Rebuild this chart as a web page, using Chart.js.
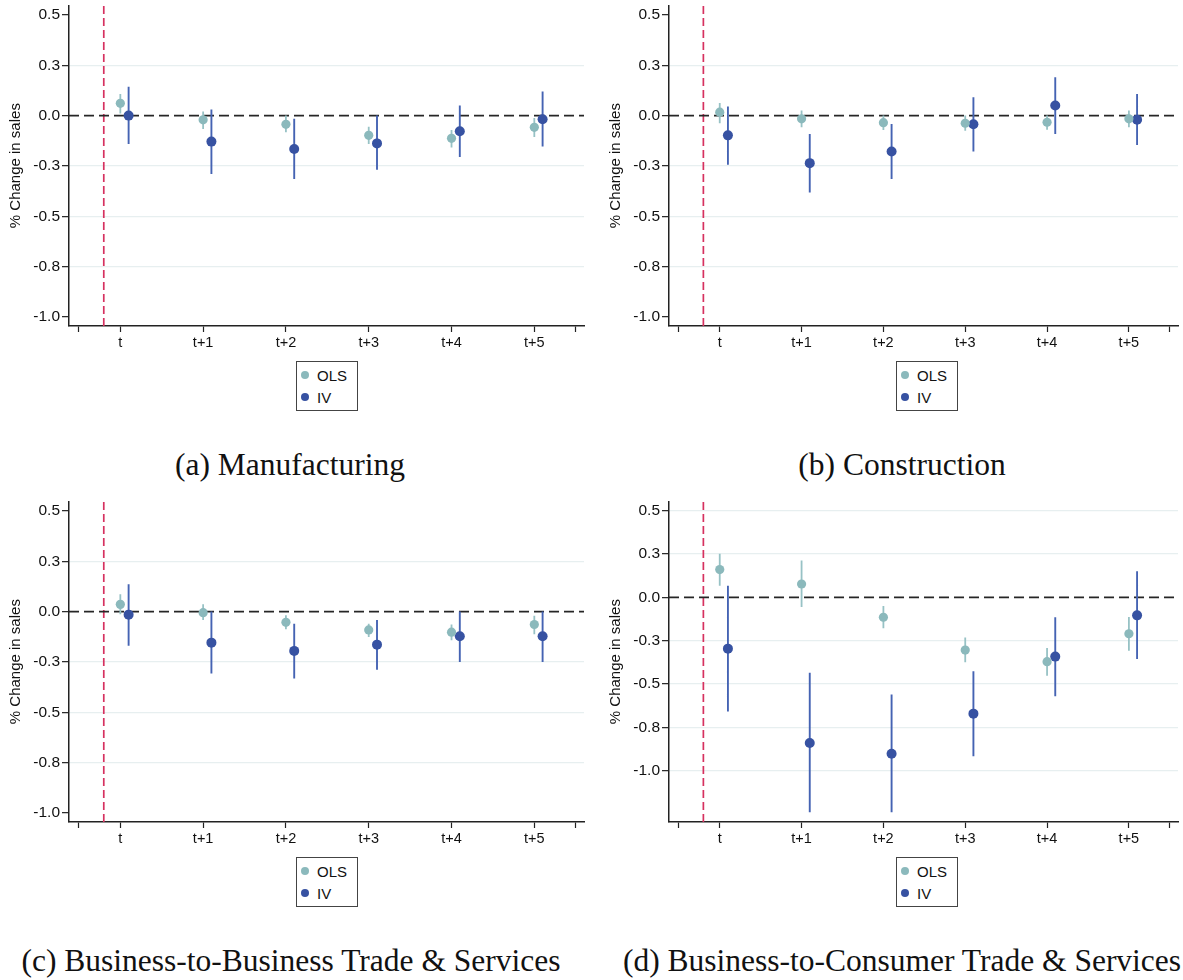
<!DOCTYPE html>
<html><head><meta charset="utf-8">
<script src="https://cdn.jsdelivr.net/npm/chart.js@4.4.1/dist/chart.umd.min.js"></script>
<style>
html,body{margin:0;padding:0;background:#fff;}
body{width:1183px;height:980px;overflow:hidden;position:relative;}
.panel{position:absolute;}
.legend{position:absolute;box-sizing:border-box;width:62px;height:50px;border:1px solid #444;background:#fff;font-family:"Liberation Sans",Arial,sans-serif;font-size:15px;color:#111;padding-top:2px;}
.legend .row{height:22px;display:flex;align-items:center;}
.legend .dot{width:8px;height:8px;border-radius:50%;margin:0 8px 0 4px;flex:none;}
.caption{position:absolute;width:700px;text-align:center;font-family:"Liberation Serif",serif;font-size:31.5px;color:#111;line-height:1;white-space:nowrap;}
</style></head><body>
<canvas id="pa" class="panel"></canvas>
<canvas id="pb" class="panel"></canvas>
<canvas id="pc" class="panel"></canvas>
<canvas id="pd" class="panel"></canvas>
<script>
// ---------- data ----------
const periods = ['t', 't+1', 't+2', 't+3', 't+4', 't+5'];
const seriesNames = ['OLS', 'IV'];
const yAxisTitle = '% Change in sales';
const yTickValues = [-1.0, -0.75, -0.5, -0.25, 0, 0.25, 0.5];
const yTickLabels = ['-1.0', '-0.8', '-0.5', '-0.3', '0.0', '0.3', '0.5'];
const xTickValues = [-0.5, 0, 1, 2, 3, 4, 5, 5.5];
const xTickLabels = ['', 't', 't+1', 't+2', 't+3', 't+4', 't+5', ''];
const eventLineX = -0.2;
const captions = ['(a) Manufacturing', '(b) Construction', '(c) Business-to-Business Trade & Services', '(d) Business-to-Consumer Trade & Services'];

// (a) Manufacturing
const mfgOlsCoef = [0.061, -0.021, -0.043, -0.098, -0.113, -0.058];
const mfgOlsLo   = [0.011, -0.066, -0.083, -0.141, -0.158, -0.106];
const mfgOlsHi   = [0.108, 0.020, 0.000, -0.055, -0.071, -0.012];
const mfgIvCoef  = [0.000, -0.129, -0.166, -0.138, -0.078, -0.018];
const mfgIvLo    = [-0.141, -0.290, -0.315, -0.269, -0.206, -0.153];
const mfgIvHi    = [0.144, 0.030, -0.016, 0.000, 0.050, 0.120];

// (b) Construction
const conOlsCoef = [0.017, -0.016, -0.035, -0.038, -0.033, -0.016];
const conOlsLo   = [-0.038, -0.058, -0.071, -0.075, -0.070, -0.058];
const conOlsHi   = [0.063, 0.025, 0.000, 0.000, 0.000, 0.025];
const conIvCoef  = [-0.098, -0.236, -0.178, -0.043, 0.050, -0.020];
const conIvLo    = [-0.244, -0.382, -0.315, -0.178, -0.091, -0.146];
const conIvHi    = [0.045, -0.091, -0.041, 0.091, 0.191, 0.108];

// (c) Business-to-Business Trade & Services
const b2bOlsCoef = [0.036, -0.005, -0.053, -0.091, -0.102, -0.064];
const b2bOlsLo   = [-0.013, -0.041, -0.088, -0.126, -0.142, -0.112];
const b2bOlsHi   = [0.086, 0.036, -0.018, -0.060, -0.064, -0.020];
const b2bIvCoef  = [-0.015, -0.154, -0.195, -0.164, -0.122, -0.122];
const b2bIvLo    = [-0.170, -0.307, -0.332, -0.289, -0.250, -0.250];
const b2bIvHi    = [0.136, 0.000, -0.060, -0.041, 0.000, 0.000];

// (d) Business-to-Consumer Trade & Services
const b2cOlsCoef = [0.160, 0.077, -0.115, -0.304, -0.371, -0.210];
const b2cOlsLo   = [0.067, -0.056, -0.179, -0.375, -0.452, -0.308];
const b2cOlsHi   = [0.252, 0.212, -0.050, -0.231, -0.292, -0.113];
const b2cIvCoef  = [-0.296, -0.840, -0.902, -0.671, -0.342, -0.104];
const b2cIvLo    = [-0.658, -1.240, -1.240, -0.917, -0.571, -0.356];
const b2cIvHi    = [0.067, -0.435, -0.560, -0.427, -0.115, 0.150];

// ---------- style ----------
const FONT = '"Liberation Sans", Arial, sans-serif';
const OLS_COLOR = '#8bb9bc', OLS_CI = '#97c2c5';
const IV_COLOR = '#3752a2', IV_CI = '#4563b3';
const GRID = '#e7eff0';
const TEXT = '#111';
const IV_DODGE = 0.1;
const CANVAS_H = 358;

function ciData(lo, hi, dx) {
  const out = [];
  periods.forEach((p, i) => {
    out.push({x: i + dx, y: lo[i]}, {x: i + dx, y: hi[i]}, {x: i + dx, y: null});
  });
  return out;
}

function makePanel(id, left, top, width, ols, iv, yMin, yMax, edgeGrid, padRight) {
  const cv = document.getElementById(id);
  cv.width = width; cv.height = CANVAS_H;
  cv.style.left = left + 'px'; cv.style.top = top + 'px';
  cv.style.width = width + 'px'; cv.style.height = CANVAS_H + 'px';
  const xMin = -0.62, xMax = 5.6;
  new Chart(cv, {
    type: 'scatter',
    data: {
      datasets: [
        {type: 'scatter', label: seriesNames[0], data: periods.map((p, i) => ({x: i, y: ols[0][i]})),
         backgroundColor: OLS_COLOR, borderWidth: 0, pointRadius: 4.6, order: 0},
        {type: 'scatter', label: seriesNames[1], data: periods.map((p, i) => ({x: i + IV_DODGE, y: iv[0][i]})),
         backgroundColor: IV_COLOR, borderWidth: 0, pointRadius: 5, order: 0},
        {type: 'line', label: 'OLS CI', data: ciData(ols[1], ols[2], 0), borderColor: OLS_CI,
         borderWidth: 1.8, pointRadius: 0, spanGaps: false, order: 1},
        {type: 'line', label: 'IV CI', data: ciData(iv[1], iv[2], IV_DODGE), borderColor: IV_CI,
         borderWidth: 1.9, pointRadius: 0, spanGaps: false, order: 1},
        {type: 'line', label: 'zero', data: [{x: xMin, y: 0}, {x: xMax, y: 0}], borderColor: '#262626',
         borderWidth: 1.6, borderDash: [10, 5], pointRadius: 0, order: 2},
        {type: 'line', label: 'event', data: [{x: eventLineX, y: yMin}, {x: eventLineX, y: yMax}], borderColor: '#d6315f',
         borderWidth: 1.7, borderDash: [8, 4], pointRadius: 0, order: 2}
      ]
    },
    options: {
      responsive: false, animation: false, devicePixelRatio: 1, events: [],
      layout: {padding: {top: 0, right: padRight, left: 0, bottom: 0}},
      plugins: {legend: {display: false}, tooltip: {enabled: false}},
      scales: {
        x: {
          type: 'linear', min: xMin, max: xMax, offset: false,
          afterBuildTicks: s => { s.ticks = xTickValues.map(v => ({value: v})); },
          afterFit: s => { s.height = 26; },
          ticks: {callback: v => xTickLabels[xTickValues.indexOf(v)], autoSkip: false, maxRotation: 0,
                  font: {family: FONT, size: 14.5}, color: TEXT, padding: 2},
          grid: {drawOnChartArea: false, tickColor: '#222', tickLength: 6, tickWidth: 1.2, offset: false},
          border: {display: true, color: '#222', width: 1.5}
        },
        y: {
          type: 'linear', min: yMin, max: yMax,
          afterBuildTicks: s => { s.ticks = yTickValues.map(v => ({value: v})); },
          afterFit: s => { s.width = 69; },
          ticks: {callback: v => yTickLabels[yTickValues.indexOf(v)], autoSkip: false,
                  font: {family: FONT, size: 15.5}, color: TEXT, padding: 2},
          grid: {
            color: ctx => {
              const v = ctx.tick ? ctx.tick.value : null;
              if (v === 0) return 'rgba(0,0,0,0)';
              if (!edgeGrid && (v === 0.5 || v === -1)) return 'rgba(0,0,0,0)';
              return GRID;
            },
            lineWidth: 1.3, tickColor: '#222', tickLength: 7, tickWidth: 1.2
          },
          border: {display: true, color: '#222', width: 1.5},
          title: {display: true, text: yAxisTitle, font: {family: FONT, size: 15}, color: TEXT, padding: {top: 7, bottom: 0}}
        }
      }
    }
  });
}

function makeLegend(left, top) {
  const box = document.createElement('div');
  box.className = 'legend';
  box.style.left = left + 'px'; box.style.top = top + 'px';
  [[seriesNames[0], OLS_COLOR], [seriesNames[1], IV_COLOR]].forEach(([name, col]) => {
    const row = document.createElement('div'); row.className = 'row';
    const dot = document.createElement('span'); dot.className = 'dot'; dot.style.background = col;
    const txt = document.createElement('span'); txt.textContent = name;
    row.appendChild(dot); row.appendChild(txt); box.appendChild(row);
  });
  document.body.appendChild(box);
}

function makeCaption(text, cx, top) {
  const d = document.createElement('div');
  d.className = 'caption';
  d.style.left = (cx - 350) + 'px'; d.style.top = top + 'px';
  d.textContent = text;
  document.body.appendChild(d);
}

makePanel('pa', 0, -6, 590, [mfgOlsCoef, mfgOlsLo, mfgOlsHi], [mfgIvCoef, mfgIvLo, mfgIvHi], -1.045, 0.548, false, 6);
makePanel('pb', 600, -6, 583, [conOlsCoef, conOlsLo, conOlsHi], [conIvCoef, conIvLo, conIvHi], -1.045, 0.548, false, 0);
makePanel('pc', 0, 490, 590, [b2bOlsCoef, b2bOlsLo, b2bOlsHi], [b2bIvCoef, b2bIvLo, b2bIvHi], -1.045, 0.548, false, 6);
makePanel('pd', 600, 490, 583, [b2cOlsCoef, b2cOlsLo, b2cOlsHi], [b2cIvCoef, b2cIvLo, b2cIvHi], -1.296, 0.554, true, 0);

makeLegend(296, 361); makeLegend(896, 361); makeLegend(296, 857); makeLegend(896, 857);

makeCaption(captions[0], 290, 449);
makeCaption(captions[1], 902, 449);
makeCaption(captions[2], 291, 945);
makeCaption(captions[3], 902, 945);
</script>
</body></html>
